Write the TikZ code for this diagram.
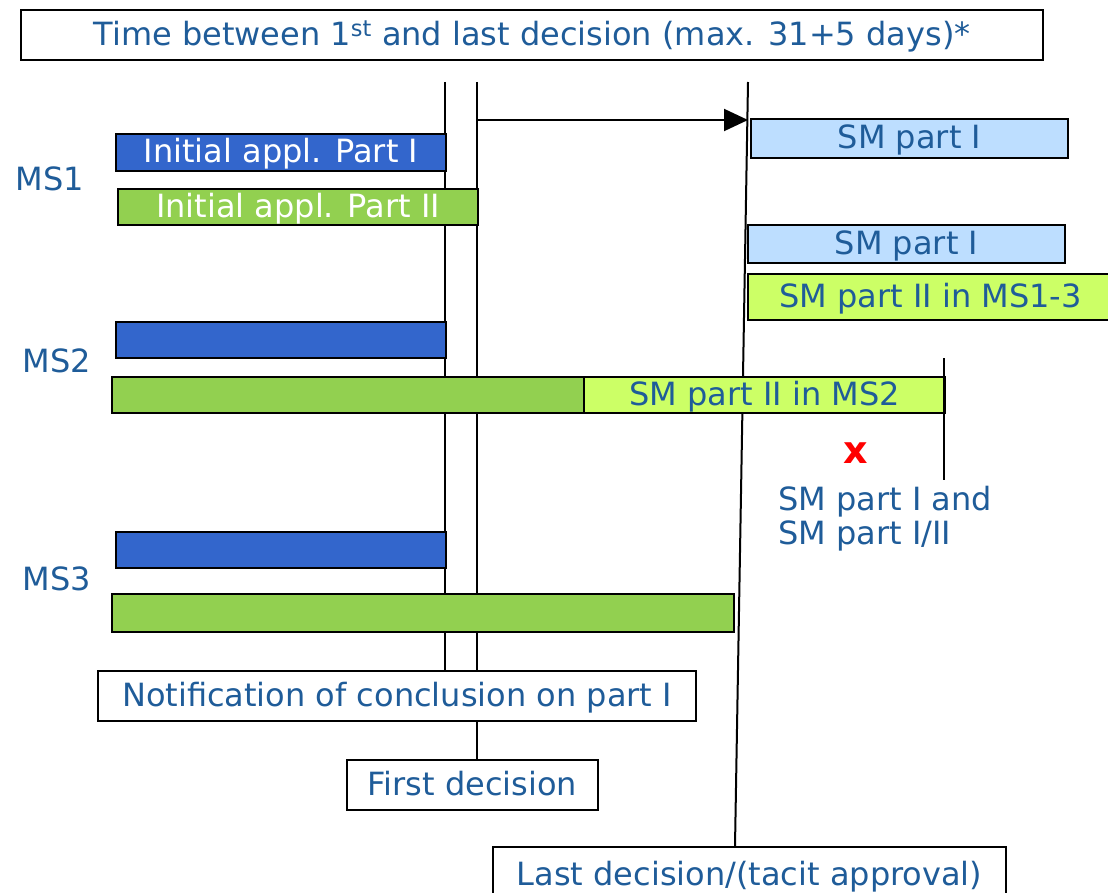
\documentclass[tikz,border=0pt]{standalone}
\usepackage{fontspec}
\setmainfont{DejaVu Sans}
\usetikzlibrary{arrows.meta,backgrounds}
\definecolor{txtblue}{HTML}{1F5C99}
\definecolor{barblue}{HTML}{3366CC}
\definecolor{bargreen}{HTML}{92D050}
\definecolor{smblue}{HTML}{BDDEFF}
\definecolor{smgreen}{HTML}{CCFF66}
\begin{document}
\begin{tikzpicture}[x=1pt,y=-1pt,
  txt/.style={text=txtblue,font=\fontsize{32}{34}\selectfont},
  box/.style={txt,draw=black,line width=2pt,fill=white,anchor=north west,inner sep=0pt,
    text height=28.5pt,text depth=7.7pt},
  bar/.style={box,text=white},
  bluebar/.style={bar,fill=barblue},
  greenbar/.style={bar,fill=bargreen},
  smI/.style={box,fill=smblue},
  smII/.style={box,fill=smgreen},
  vline/.style={draw=black,line width=2pt},
  lab/.style={txt,inner sep=0pt}
]
\useasboundingbox (0,0) rectangle (1108,893);

% title
\node[box,minimum width=1022pt,minimum height=50pt] (title) at (20,9)
  {Time between 1\textsuperscript{st} and last decision (max. 31+5 days)*};

% MS1
\node[lab] (ms1) at (50,179) {MS1};
\node[bluebar,minimum width=330pt,minimum height=37pt] (b1) at (115,133) {Initial appl. Part I};
\node[greenbar,minimum width=360pt,minimum height=35pt] (g1) at (117,188) {Initial appl. Part II};

% SM boxes
\node[smI,minimum width=317pt,minimum height=39pt] (sm1) at (750,118) {SM part I};
\node[smI,minimum width=317pt,minimum height=38pt] (sm2) at (747,224) {SM part I};
\node[smII,minimum width=365pt,minimum height=46pt] (sm3) at (747,273) {SM part II in MS1-3};

% MS2
\node[lab] (ms2) at (57,361) {MS2};
\node[bluebar,minimum width=330pt,minimum height=36pt] (b2) at (115,321) {};
\node[greenbar,minimum width=472pt,minimum height=33pt] (g2) at (111,376) {};
\node[smII,minimum width=361pt,minimum height=33pt] (sm4) at (583,376) {SM part II in MS2};

% cross and note
\node[inner sep=0pt,text=red,font=\fontsize{38}{40}\selectfont\bfseries] (cross) at (856,453) {x};
\node[lab,anchor=north west,align=left] (note) at (778,486) {SM part I and\\SM part I/II};

% MS3
\node[lab] (ms3) at (57,579) {MS3};
\node[bluebar,minimum width=330pt,minimum height=36pt] (b3) at (115,531) {};
\node[greenbar,minimum width=622pt,minimum height=38pt] (g3) at (111,593) {};

% bottom boxes
\node[box,minimum width=598pt,minimum height=50pt] (notif) at (97,670) {Notification of conclusion on part I};
\node[box,minimum width=251pt,minimum height=50pt] (first) at (346,759) {First decision};
\node[box,minimum width=513pt,minimum height=56pt] (last) at (492,846) {Last decision/(tacit approval)};

% connector end points
\coordinate (t1) at (445,82);
\coordinate (t2) at (477,82);
\coordinate (t3) at (748,82);
\coordinate (e3) at (735,846);
\coordinate (a1) at (477,120);
\coordinate (a2) at (748,120);
\coordinate (m1) at (944,358);
\coordinate (m2) at (944,480);

\begin{scope}[on background layer]
  \draw[vline] (t1) -- (t1 |- notif.north);
  \draw[vline] (t2) -- (t2 |- first.north);
  \draw[vline] (t3) -- (e3);
\end{scope}
\draw[vline,-{Triangle[length=24pt,width=22pt]}] (a1) -- (a2);
\draw[vline] (m1) -- (m2);
\end{tikzpicture}
\end{document}
